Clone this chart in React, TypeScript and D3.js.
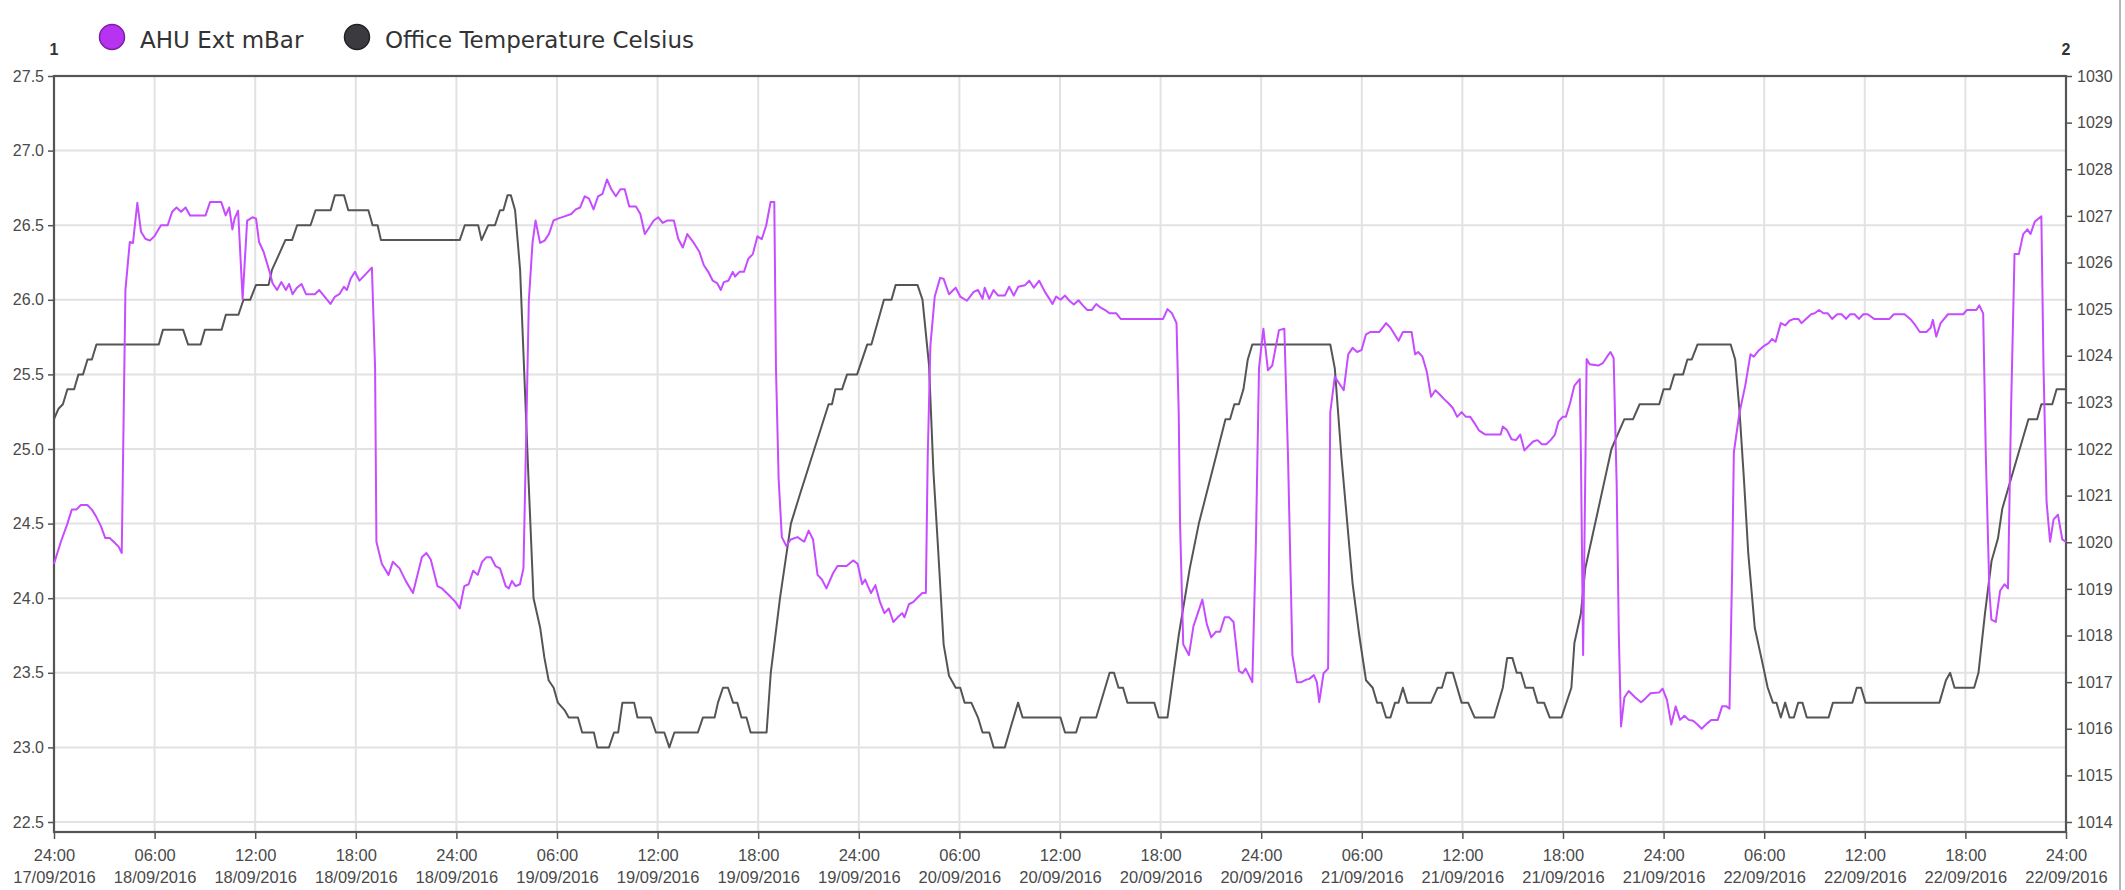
import React, { useRef, useEffect } from "react";
import * as d3 from "d3";

// hours since 17/09/2016 24:00, value
const tempPoints: [number, number][] = [
  [0, 25.2], [0.27, 25.27], [0.53, 25.3], [0.8, 25.4], [1.2, 25.4], [1.46, 25.5], [1.73, 25.5], [2.0, 25.6],
  [2.26, 25.6], [2.53, 25.7], [6.25, 25.7], [6.5, 25.8], [7.7, 25.8], [8.0, 25.7], [8.75, 25.7], [9.0, 25.8],
  [10.0, 25.8], [10.25, 25.9], [11.0, 25.9], [11.3, 26.0], [11.7, 26.0], [12.05, 26.1], [12.8, 26.1], [13.0, 26.2],
  [13.4, 26.3], [13.8, 26.4], [14.2, 26.4], [14.5, 26.5], [15.3, 26.5], [15.6, 26.6], [16.5, 26.6], [16.75, 26.7],
  [17.3, 26.7], [17.55, 26.6], [18.75, 26.6], [19.0, 26.5], [19.3, 26.5], [19.5, 26.4], [24.2, 26.4], [24.5, 26.5],
  [25.3, 26.5], [25.5, 26.4], [25.9, 26.5], [26.3, 26.5], [26.6, 26.6], [26.8, 26.6], [27.05, 26.7], [27.25, 26.7],
  [27.5, 26.6], [27.8, 26.2], [28.05, 25.5], [28.3, 24.8], [28.6, 24.0], [29.0, 23.8], [29.25, 23.6], [29.5, 23.45],
  [29.8, 23.4], [30.05, 23.3], [30.45, 23.25], [30.7, 23.2], [31.25, 23.2], [31.5, 23.1], [32.2, 23.1], [32.4, 23.0],
  [33.1, 23.0], [33.4, 23.1], [33.65, 23.1], [33.9, 23.3], [34.6, 23.3], [34.8, 23.2], [35.6, 23.2], [35.9, 23.1],
  [36.4, 23.1], [36.7, 23.0], [37.0, 23.1], [38.4, 23.1], [38.7, 23.2], [39.4, 23.2], [39.6, 23.3], [39.9, 23.4],
  [40.2, 23.4], [40.5, 23.3], [40.75, 23.3], [41.0, 23.2], [41.3, 23.2], [41.55, 23.1], [42.5, 23.1], [42.75, 23.5],
  [43.3, 24.0], [43.95, 24.5], [44.5, 24.7], [46.2, 25.3], [46.4, 25.3], [46.6, 25.4], [47.0, 25.4], [47.3, 25.5],
  [47.9, 25.5], [48.5, 25.7], [48.75, 25.7], [49.5, 26.0], [49.95, 26.0], [50.2, 26.1], [51.5, 26.1], [51.8, 26.0],
  [52.19, 25.56], [52.45, 24.85], [52.72, 24.35], [53.06, 23.69], [53.38, 23.48], [53.78, 23.4], [54.05, 23.4],
  [54.31, 23.3], [54.71, 23.3], [55.11, 23.2], [55.38, 23.1], [55.78, 23.1], [56.04, 23.0], [56.71, 23.0],
  [57.1, 23.15], [57.5, 23.3], [57.77, 23.2], [60.03, 23.2], [60.3, 23.1], [60.96, 23.1], [61.23, 23.2],
  [62.16, 23.2], [62.56, 23.35], [62.96, 23.5], [63.22, 23.5], [63.49, 23.4], [63.76, 23.4], [64.02, 23.3],
  [65.62, 23.3], [65.88, 23.2], [66.41, 23.2], [67.08, 23.75], [67.74, 24.2], [68.28, 24.5], [69.87, 25.2],
  [70.14, 25.2], [70.4, 25.3], [70.67, 25.3], [70.94, 25.4], [71.2, 25.6], [71.47, 25.7], [76.12, 25.7],
  [76.39, 25.54], [76.79, 24.94], [77.45, 24.1], [77.85, 23.75], [78.25, 23.45], [78.65, 23.4], [78.91, 23.3],
  [79.18, 23.3], [79.45, 23.2], [79.71, 23.2], [79.98, 23.3], [80.19, 23.3], [80.45, 23.4], [80.71, 23.3],
  [82.13, 23.3], [82.52, 23.4], [82.78, 23.4], [83.04, 23.5], [83.43, 23.5], [83.95, 23.3], [84.34, 23.3],
  [84.73, 23.2], [85.89, 23.2], [86.41, 23.4], [86.67, 23.6], [86.98, 23.6], [87.24, 23.5], [87.5, 23.5],
  [87.76, 23.4], [88.22, 23.4], [88.48, 23.3], [88.87, 23.3], [89.21, 23.2], [89.91, 23.2], [90.5, 23.4],
  [90.68, 23.7], [91.07, 23.9], [91.33, 24.2], [91.72, 24.4], [92.11, 24.6], [92.5, 24.8], [92.89, 25.0],
  [93.27, 25.1], [93.66, 25.2], [94.18, 25.2], [94.57, 25.3], [95.74, 25.3], [96.0, 25.4], [96.38, 25.4],
  [96.64, 25.5], [97.16, 25.5], [97.42, 25.6], [97.68, 25.6], [98.02, 25.7], [100.0, 25.7], [100.27, 25.6],
  [100.53, 25.25], [100.79, 24.8], [101.05, 24.3], [101.44, 23.8], [101.83, 23.6], [102.21, 23.4], [102.52, 23.3],
  [102.73, 23.3], [102.99, 23.2], [103.25, 23.3], [103.51, 23.2], [103.77, 23.2], [104.03, 23.3], [104.28, 23.3],
  [104.54, 23.2], [105.84, 23.2], [106.1, 23.3], [107.26, 23.3], [107.52, 23.4], [107.78, 23.4], [108.04, 23.3],
  [112.45, 23.3], [112.84, 23.45], [113.09, 23.5], [113.35, 23.4], [114.52, 23.4], [114.78, 23.5], [115.17, 23.9],
  [115.56, 24.25], [115.94, 24.4], [116.2, 24.6], [116.72, 24.8], [117.24, 25.0], [117.76, 25.2], [118.28, 25.2],
  [118.53, 25.3], [119.18, 25.3], [119.44, 25.4], [120, 25.4],
];

const ahuPoints: [number, number][] = [
  [0, 1019.54], [0.4, 1020.0], [0.8, 1020.4], [1.06, 1020.7], [1.33, 1020.7], [1.6, 1020.8], [1.99, 1020.8],
  [2.26, 1020.7], [2.53, 1020.54], [2.79, 1020.35], [3.06, 1020.09], [3.32, 1020.09], [3.59, 1020.0],
  [3.86, 1019.9], [4.04, 1019.77], [4.26, 1025.41], [4.52, 1026.44], [4.71, 1026.42], [4.97, 1027.28],
  [5.19, 1026.66], [5.45, 1026.51], [5.72, 1026.47], [5.98, 1026.56], [6.38, 1026.8], [6.78, 1026.8],
  [7.05, 1027.09], [7.31, 1027.18], [7.58, 1027.09], [7.85, 1027.18], [8.11, 1027.01], [9.04, 1027.01],
  [9.31, 1027.3], [9.97, 1027.3], [10.24, 1027.01], [10.45, 1027.18], [10.64, 1026.71], [10.77, 1026.94],
  [10.98, 1027.11], [11.25, 1025.22], [11.52, 1026.9], [11.84, 1026.97], [12.05, 1026.94], [12.23, 1026.44],
  [12.5, 1026.23], [12.9, 1025.75], [13.03, 1025.56], [13.3, 1025.41], [13.56, 1025.58], [13.83, 1025.41],
  [14.02, 1025.54], [14.23, 1025.32], [14.49, 1025.46], [14.76, 1025.54], [15.03, 1025.32], [15.56, 1025.32],
  [15.82, 1025.41], [16.49, 1025.11], [16.76, 1025.27], [17.02, 1025.32], [17.29, 1025.48], [17.47, 1025.41],
  [17.69, 1025.65], [17.95, 1025.8], [18.22, 1025.61], [18.96, 1025.89], [19.15, 1023.74], [19.23, 1020.01],
  [19.55, 1019.54], [19.95, 1019.3], [20.21, 1019.58], [20.61, 1019.44], [21.01, 1019.15], [21.41, 1018.91],
  [21.94, 1019.68], [22.21, 1019.77], [22.47, 1019.63], [22.87, 1019.06], [23.14, 1019.01], [23.54, 1018.87],
  [23.94, 1018.72], [24.2, 1018.58], [24.47, 1019.06], [24.73, 1019.1], [25.0, 1019.39], [25.27, 1019.3],
  [25.53, 1019.58], [25.8, 1019.68], [26.06, 1019.68], [26.33, 1019.49], [26.6, 1019.44], [26.94, 1019.06],
  [27.13, 1019.01], [27.31, 1019.17], [27.53, 1019.06], [27.79, 1019.1], [28.0, 1019.44], [28.19, 1022.79],
  [28.32, 1025.18], [28.54, 1026.42], [28.72, 1026.9], [28.99, 1026.42], [29.26, 1026.47], [29.52, 1026.61],
  [29.79, 1026.9], [30.05, 1026.94], [30.45, 1026.99], [30.85, 1027.04], [31.12, 1027.14], [31.38, 1027.18],
  [31.65, 1027.42], [31.91, 1027.37], [32.18, 1027.14], [32.45, 1027.42], [32.71, 1027.47], [32.98, 1027.78],
  [33.24, 1027.57], [33.51, 1027.42], [33.78, 1027.57], [34.04, 1027.57], [34.31, 1027.2], [34.71, 1027.2],
  [34.97, 1027.04], [35.24, 1026.61], [35.5, 1026.75], [35.77, 1026.9], [36.04, 1026.97], [36.3, 1026.85],
  [36.57, 1026.9], [36.97, 1026.9], [37.23, 1026.51], [37.5, 1026.32], [37.77, 1026.61], [38.16, 1026.42],
  [38.49, 1026.23], [38.76, 1025.94], [39.02, 1025.8], [39.29, 1025.61], [39.55, 1025.56], [39.77, 1025.41],
  [39.95, 1025.58], [40.22, 1025.61], [40.48, 1025.8], [40.62, 1025.7], [40.88, 1025.8], [41.15, 1025.8],
  [41.41, 1026.08], [41.68, 1026.18], [41.95, 1026.56], [42.21, 1026.5], [42.48, 1026.8], [42.74, 1027.3],
  [42.96, 1027.3], [43.06, 1023.74], [43.22, 1021.35], [43.41, 1020.11], [43.68, 1019.92], [43.94, 1020.06],
  [44.34, 1020.11], [44.74, 1020.01], [45.01, 1020.25], [45.27, 1020.06], [45.54, 1019.3], [45.8, 1019.2],
  [46.07, 1019.01], [46.47, 1019.34], [46.73, 1019.49], [47.27, 1019.49], [47.66, 1019.61], [47.93, 1019.54],
  [48.2, 1019.1], [48.38, 1019.2], [48.54, 1019.06], [48.73, 1018.91], [48.99, 1019.08], [49.26, 1018.72],
  [49.53, 1018.48], [49.79, 1018.58], [50.06, 1018.29], [50.32, 1018.39], [50.59, 1018.48], [50.72, 1018.39],
  [50.99, 1018.67], [51.26, 1018.72], [51.52, 1018.82], [51.79, 1018.91], [52.0, 1018.91], [52.11, 1021.83],
  [52.27, 1024.22], [52.53, 1025.27], [52.85, 1025.67], [53.06, 1025.65], [53.38, 1025.32], [53.78, 1025.46],
  [54.05, 1025.27], [54.45, 1025.18], [54.85, 1025.37], [55.11, 1025.41], [55.38, 1025.22], [55.51, 1025.46],
  [55.78, 1025.22], [56.04, 1025.41], [56.31, 1025.29], [56.71, 1025.29], [56.97, 1025.48], [57.24, 1025.29],
  [57.51, 1025.48], [57.9, 1025.51], [58.17, 1025.61], [58.44, 1025.46], [58.76, 1025.61], [59.1, 1025.37],
  [59.37, 1025.22], [59.55, 1025.11], [59.77, 1025.27], [60.03, 1025.2], [60.3, 1025.29], [60.56, 1025.18],
  [60.83, 1025.1], [61.1, 1025.19], [61.36, 1025.08], [61.63, 1024.98], [61.89, 1024.98], [62.16, 1025.11],
  [62.43, 1025.03], [62.69, 1024.98], [62.96, 1024.91], [63.36, 1024.91], [63.62, 1024.79], [66.15, 1024.79],
  [66.41, 1025.0], [66.68, 1024.91], [66.95, 1024.7], [67.08, 1022.79], [67.16, 1020.4], [67.35, 1017.81],
  [67.69, 1017.58], [67.96, 1018.2], [68.22, 1018.48], [68.49, 1018.77], [68.76, 1018.24], [69.02, 1017.96],
  [69.29, 1018.08], [69.55, 1018.08], [69.82, 1018.39], [70.09, 1018.39], [70.35, 1018.29], [70.67, 1017.24],
  [70.88, 1017.19], [71.07, 1017.29], [71.47, 1017.0], [71.68, 1019.92], [71.87, 1023.74], [72.13, 1024.58],
  [72.4, 1023.69], [72.66, 1023.79], [73.06, 1024.55], [73.38, 1024.58], [73.6, 1021.83], [73.86, 1017.58],
  [74.13, 1017.0], [74.39, 1017.0], [74.66, 1017.05], [74.87, 1017.07], [75.14, 1017.15], [75.32, 1017.0],
  [75.46, 1016.57], [75.72, 1017.19], [75.99, 1017.29], [76.12, 1022.79], [76.39, 1023.55], [76.92, 1023.26],
  [77.19, 1024.03], [77.45, 1024.17], [77.72, 1024.08], [77.98, 1024.12], [78.25, 1024.46], [78.52, 1024.51],
  [79.05, 1024.51], [79.45, 1024.7], [79.71, 1024.6], [80.19, 1024.32], [80.45, 1024.51], [80.97, 1024.51],
  [81.18, 1024.03], [81.36, 1024.08], [81.62, 1023.98], [81.88, 1023.65], [82.13, 1023.12], [82.39, 1023.26],
  [82.65, 1023.17], [82.91, 1023.07], [83.17, 1022.98], [83.43, 1022.88], [83.69, 1022.69], [83.95, 1022.79],
  [84.21, 1022.69], [84.47, 1022.69], [84.73, 1022.55], [84.98, 1022.4], [85.37, 1022.31], [86.28, 1022.31],
  [86.41, 1022.48], [86.67, 1022.4], [86.93, 1022.21], [87.19, 1022.19], [87.45, 1022.31], [87.7, 1021.97],
  [87.96, 1022.07], [88.22, 1022.16], [88.48, 1022.19], [88.74, 1022.1], [89.0, 1022.1], [89.26, 1022.19],
  [89.52, 1022.31], [89.73, 1022.59], [89.98, 1022.69], [90.17, 1022.69], [90.42, 1022.98], [90.68, 1023.36],
  [91.0, 1023.5], [91.07, 1021.83], [91.2, 1017.58], [91.41, 1023.93], [91.59, 1023.82], [92.11, 1023.79],
  [92.37, 1023.84], [92.63, 1023.98], [92.83, 1024.08], [93.02, 1023.95], [93.2, 1021.26], [93.33, 1018.01],
  [93.46, 1016.05], [93.66, 1016.67], [93.92, 1016.81], [94.31, 1016.67], [94.65, 1016.57], [94.83, 1016.62],
  [95.22, 1016.76], [95.74, 1016.78], [95.94, 1016.86], [96.2, 1016.62], [96.46, 1016.09], [96.72, 1016.48],
  [96.98, 1016.19], [97.24, 1016.28], [97.5, 1016.19], [97.76, 1016.17], [98.02, 1016.09], [98.27, 1016.0],
  [98.58, 1016.11], [98.84, 1016.19], [99.23, 1016.19], [99.49, 1016.48], [99.75, 1016.48], [99.93, 1016.43],
  [100.09, 1019.44], [100.19, 1021.93], [100.53, 1022.79], [100.87, 1023.36], [101.18, 1024.03], [101.38, 1023.98],
  [101.69, 1024.12], [101.95, 1024.2], [102.26, 1024.27], [102.47, 1024.36], [102.68, 1024.3], [102.99, 1024.7],
  [103.25, 1024.65], [103.51, 1024.75], [103.77, 1024.79], [104.03, 1024.79], [104.23, 1024.7], [104.49, 1024.79],
  [104.8, 1024.89], [105.01, 1024.91], [105.27, 1024.98], [105.53, 1024.91], [105.79, 1024.91], [106.05, 1024.79],
  [106.36, 1024.89], [106.62, 1024.89], [106.88, 1024.79], [107.13, 1024.89], [107.39, 1024.89], [107.65, 1024.79],
  [107.91, 1024.89], [108.17, 1024.89], [108.56, 1024.79], [109.47, 1024.79], [109.73, 1024.89], [110.37, 1024.89],
  [110.76, 1024.77], [111.02, 1024.65], [111.28, 1024.51], [111.67, 1024.51], [111.93, 1024.6], [112.06, 1024.77],
  [112.26, 1024.41], [112.52, 1024.7], [112.96, 1024.89], [113.87, 1024.89], [114.08, 1024.98], [114.65, 1024.98],
  [114.83, 1025.08], [115.06, 1024.91], [115.22, 1021.83], [115.43, 1018.96], [115.55, 1018.34], [115.81, 1018.29],
  [116.07, 1018.96], [116.33, 1019.1], [116.54, 1019.01], [116.72, 1022.79], [116.93, 1026.18], [117.19, 1026.18],
  [117.45, 1026.61], [117.7, 1026.71], [117.88, 1026.61], [118.14, 1026.88], [118.53, 1026.99], [118.66, 1023.74],
  [118.84, 1020.87], [119.05, 1020.01], [119.26, 1020.49], [119.52, 1020.59], [119.78, 1020.06], [120, 1020.01],
];

const timeLabels = [
  "24:00", "06:00", "12:00", "18:00", "24:00", "06:00", "12:00", "18:00", "24:00", "06:00", "12:00",
  "18:00", "24:00", "06:00", "12:00", "18:00", "24:00", "06:00", "12:00", "18:00", "24:00",
];
const dateLabels = [
  "17/09/2016", "18/09/2016", "18/09/2016", "18/09/2016", "18/09/2016", "19/09/2016", "19/09/2016",
  "19/09/2016", "19/09/2016", "20/09/2016", "20/09/2016", "20/09/2016", "20/09/2016", "21/09/2016",
  "21/09/2016", "21/09/2016", "21/09/2016", "22/09/2016", "22/09/2016", "22/09/2016", "22/09/2016",
];
const leftTicks = [22.5, 23, 23.5, 24, 24.5, 25, 25.5, 26, 26.5, 27, 27.5];
const rightTicks = d3.range(1014, 1031);
const legendItems = [
  { name: "AHU Ext mBar", color: "#b832f2", stroke: "#7a1fa3" },
  { name: "Office Temperature Celsius", color: "#3b3b3f", stroke: "#222" },
];

const W = 2125;
const H = 890;
const left = 54;
const right = 2066;
const top = 76;
const bottom = 832;
const valBottom = 822;

const App: React.FC = () => {
  const svgRef = useRef<SVGSVGElement>(null);

  useEffect(() => {
    if (!svgRef.current) return;
    const svg = d3.select(svgRef.current);
    svg.selectAll("*").remove();

    const x = d3.scaleLinear().domain([0, 120]).range([left, right]);
    const yL = d3.scaleLinear().domain([22.5, 27.5]).range([valBottom, top]);
    const yR = d3.scaleLinear().domain([1014, 1030]).range([valBottom, top]);

    svg.append("rect").attr("width", W).attr("height", H).attr("fill", "#fff");

    // grid
    const xTicks = d3.range(0, 121, 6);
    svg
      .append("g")
      .selectAll("line")
      .data(xTicks)
      .join("line")
      .attr("x1", (d) => x(d))
      .attr("x2", (d) => x(d))
      .attr("y1", top)
      .attr("y2", bottom)
      .attr("stroke", "#e2e2e2")
      .attr("stroke-width", 2);
    svg
      .append("g")
      .selectAll("line")
      .data(leftTicks)
      .join("line")
      .attr("x1", left)
      .attr("x2", right)
      .attr("y1", (d) => yL(d))
      .attr("y2", (d) => yL(d))
      .attr("stroke", "#e2e2e2")
      .attr("stroke-width", 2);

    const font = "'Liberation Sans', Arial, sans-serif";

    // left axis
    const gl = svg
      .append("g")
      .attr("transform", `translate(${left},0)`)
      .call(
        d3
          .axisLeft(yL)
          .tickValues(leftTicks)
          .tickSize(6)
          .tickPadding(4)
          .tickFormat((d) => d3.format(".1f")(d as number))
      );
    gl.select(".domain").remove();
    gl.selectAll("line").attr("stroke", "#555").attr("stroke-width", 1.5);
    gl.selectAll("text").attr("font-family", font).attr("font-size", 16).attr("fill", "#4a4a4a");

    // right axis
    const gr = svg
      .append("g")
      .attr("transform", `translate(${right},0)`)
      .call(d3.axisRight(yR).tickValues(rightTicks).tickSize(6).tickPadding(5).tickFormat(d3.format("d")));
    gr.select(".domain").remove();
    gr.selectAll("line").attr("stroke", "#555").attr("stroke-width", 1.5);
    gr.selectAll("text").attr("font-family", font).attr("font-size", 16).attr("fill", "#4a4a4a");

    // bottom axis
    const gb = svg
      .append("g")
      .attr("transform", `translate(0,${bottom})`)
      .call(d3.axisBottom(x).tickValues(xTicks).tickSize(7).tickFormat(() => ""));
    gb.select(".domain").remove();
    gb.selectAll("line").attr("stroke", "#555").attr("stroke-width", 1.5);
    gb.selectAll<SVGTextElement, number>("text").each(function (_d, i) {
      const t = d3.select(this).attr("y", 0).attr("dy", null);
      t.attr("font-family", font).attr("font-size", 16.5).attr("fill", "#4a4a4a");
      t.append("tspan").attr("x", 0).attr("y", 29).text(timeLabels[i]);
      t.append("tspan").attr("x", 0).attr("y", 51).text(dateLabels[i]);
    });

    // frame
    svg
      .append("rect")
      .attr("x", left)
      .attr("y", top)
      .attr("width", right - left)
      .attr("height", bottom - top)
      .attr("fill", "none")
      .attr("stroke", "#555")
      .attr("stroke-width", 2.2);

    // axis ids
    svg
      .append("g")
      .selectAll("text")
      .data([
        { t: "1", x: left },
        { t: "2", x: right },
      ])
      .join("text")
      .attr("x", (d) => d.x)
      .attr("y", 55)
      .attr("text-anchor", "middle")
      .attr("font-family", font)
      .attr("font-weight", "bold")
      .attr("font-size", 16)
      .attr("fill", "#333")
      .text((d) => d.t);

    // series
    const lineL = d3
      .line<[number, number]>()
      .x((d) => x(d[0]))
      .y((d) => yL(d[1]));
    const lineR = d3
      .line<[number, number]>()
      .x((d) => x(d[0]))
      .y((d) => yR(d[1]));

    svg
      .append("path")
      .datum(tempPoints)
      .attr("fill", "none")
      .attr("stroke", "#555")
      .attr("stroke-width", 2)
      .attr("stroke-linejoin", "round")
      .attr("d", lineL);

    svg
      .append("path")
      .datum(ahuPoints)
      .attr("fill", "none")
      .attr("stroke", "#c64cff")
      .attr("stroke-width", 2)
      .attr("stroke-linejoin", "round")
      .attr("d", lineR);

    // legend
    const legendX = [112, 357];
    const lg = svg
      .append("g")
      .selectAll("g")
      .data(legendItems)
      .join("g")
      .attr("transform", (_d, i) => `translate(${legendX[i]},37)`);
    lg.append("circle")
      .attr("r", 12.5)
      .attr("fill", (d) => d.color)
      .attr("stroke", (d) => d.stroke)
      .attr("stroke-width", 1.5);
    lg.append("text")
      .attr("x", 28)
      .attr("y", 11)
      .attr("font-family", "'DejaVu Sans', Verdana, sans-serif")
      .attr("font-size", 23)
      .attr("fill", "#333")
      .text((d) => d.name);

    // outer right border
    svg
      .append("line")
      .attr("x1", 2120)
      .attr("x2", 2120)
      .attr("y1", 0)
      .attr("y2", H)
      .attr("stroke", "#b5b5b5")
      .attr("stroke-width", 2);
  }, []);

  return (
    <svg
      ref={svgRef}
      width={W}
      height={H}
      style={{ position: "absolute", left: 0, top: 0, display: "block" }}
    />
  );
};

export default App;
